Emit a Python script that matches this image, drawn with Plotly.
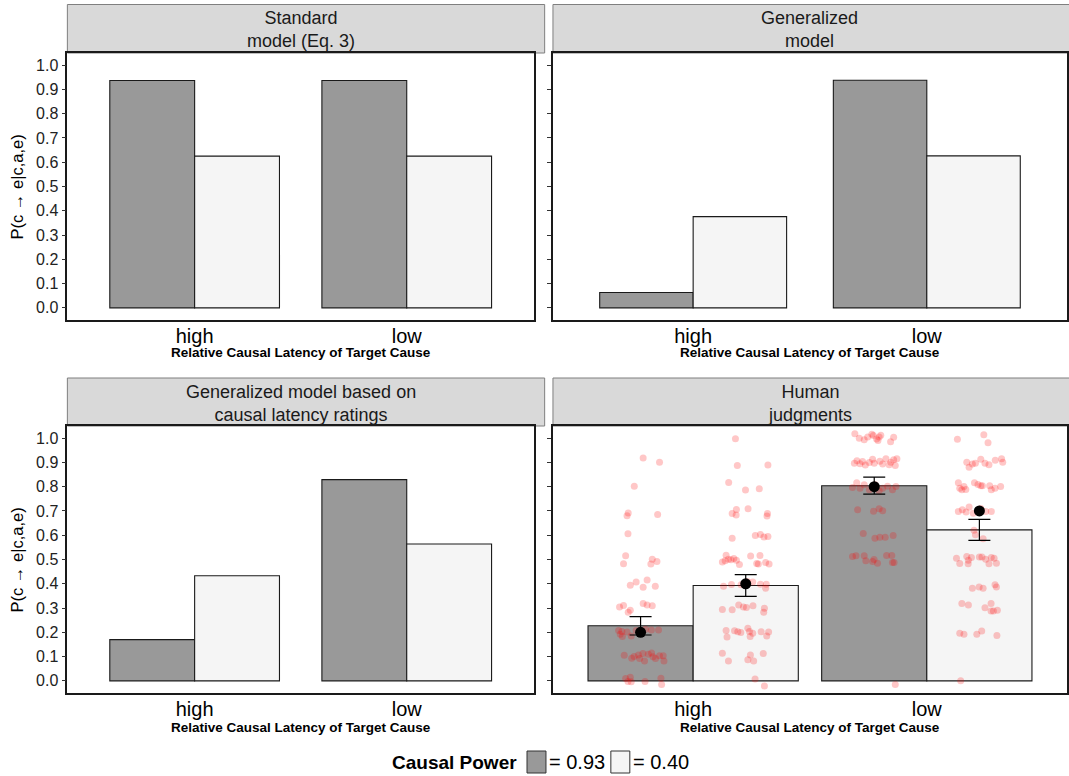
import plotly.graph_objects as go

W, H = 1069, 776

# ---------------------------------------------------------------- data
latency = ["high", "low"]
x_pos = [1, 2]

standard_093 = [0.937, 0.937]
standard_040 = [0.625, 0.625]

general_093 = [0.063, 0.938]
general_040 = [0.376, 0.626]

rating_093 = [0.170, 0.829]
rating_040 = [0.433, 0.564]

human_mean_093 = [0.227, 0.804]
human_mean_040 = [0.393, 0.622]
human_se_093 = [0.038, 0.035]
human_se_040 = [0.045, 0.043]
human_median_093 = [0.2, 0.8]
human_median_040 = [0.4, 0.7]

# individual judgments (value, horizontal jitter) per condition
high_093_vals = [0.918, 0.901, 0.802, 0.692, 0.680, 0.685, 0.606, 0.515, 0.482, 0.501, 0.492, 0.481,
                 0.416, 0.407, 0.394, 0.386, 0.390, 0.304, 0.310, 0.283, 0.291, 0.319, 0.313, 0.309,
                 0.207, 0.192, 0.183, 0.201, 0.185, 0.207, 0.196, 0.213, 0.210, 0.210, 0.203,
                 0.106, 0.093, 0.107, 0.092, 0.082, 0.110, 0.099, 0.092, 0.103, 0.103, 0.082, 0.100,
                 0.113, 0.115, 0.010, -0.003, 0.015, -0.004, -0.003, 0.011, -0.015]
high_093_jit = [0.011, 0.081, -0.027, -0.053, -0.058, 0.073, -0.054, -0.064, -0.073, 0.050, 0.070, 0.044,
                0.028, -0.019, -0.044, 0.011, 0.063, -0.090, -0.073, -0.053, -0.044, 0.011, 0.028, 0.050,
                -0.094, -0.087, -0.078, -0.058, -0.040, -0.019, 0.003, 0.021, 0.046, 0.077, -0.080,
                -0.070, -0.038, -0.009, -0.004, 0.017, 0.033, 0.053, 0.064, 0.081, 0.097, 0.100, -0.028,
                0.010, 0.047, -0.064, -0.054, -0.044, -0.040, 0.019, 0.087, 0.090]

high_040_vals = [0.997, 0.887, 0.889, 0.817, 0.786, 0.791, 0.690, 0.706, 0.683, 0.709, 0.690, 0.679,
                 0.588, 0.599, 0.603, 0.595, 0.593,
                 0.518, 0.490, 0.495, 0.501, 0.499, 0.504, 0.497, 0.479, 0.514, 0.484, 0.516, 0.488,
                 0.481, 0.481,
                 0.390, 0.397, 0.396, 0.409, 0.407, 0.398, 0.398, 0.382,
                 0.294, 0.293, 0.313, 0.304, 0.302, 0.309, 0.299, 0.283,
                 0.207, 0.181, 0.206, 0.202, 0.199, 0.217, 0.203, 0.196, 0.183, 0.202, 0.185, 0.201,
                 0.114, 0.082, 0.087, 0.107, 0.082, 0.113, 0.008, -0.021]
high_040_jit = [-0.044, -0.036, 0.095, -0.073, -0.001, 0.058, -0.058, -0.040, -0.041, 0.010, 0.093, 0.091,
                -0.058, 0.041, 0.063, 0.095, 0.078,
                -0.084, -0.100, -0.088, -0.074, -0.063, -0.051, -0.040, -0.027, 0.021, 0.047, 0.061,
                0.085, 0.100, 0.054,
                -0.095, -0.061, -0.020, 0.007, 0.030, 0.063, 0.088, 0.085,
                -0.100, -0.058, -0.030, -0.010, 0.003, 0.031, 0.080, 0.077,
                -0.084, -0.080, -0.048, -0.034, -0.021, 0.009, 0.016, 0.030, 0.019, 0.066, 0.090, 0.098,
                -0.100, -0.074, 0.009, 0.020, 0.034, 0.075, 0.040, 0.080]

low_093_vals = [1.018, 1.000, 0.993, 1.005, 1.011, 0.996, 1.005, 0.990, 1.012, 0.985, 1.004, 1.016,
                0.897, 0.907, 0.894, 0.904, 0.889, 0.900, 0.913, 0.897, 0.905, 0.893, 0.915, 0.890,
                0.911, 0.915, 0.887, 0.901,
                0.797, 0.816, 0.794, 0.808, 0.787, 0.808, 0.783, 0.802, 0.801, 0.787, 0.794,
                0.705, 0.699, 0.709, 0.701,
                0.607, 0.588, 0.592, 0.592, 0.599,
                0.512, 0.515, 0.515, 0.495, 0.492, 0.485, 0.516, 0.516, 0.488, 0.488, 0.500,
                -0.015]
low_093_jit = [-0.083, -0.064, -0.043, -0.028, -0.004, 0.010, 0.021, 0.016, 0.028, 0.070, 0.083, -0.010,
               -0.085, -0.074, -0.061, -0.050, -0.038, -0.021, -0.007, 0.000, 0.024, 0.036, 0.050, 0.064,
               0.083, 0.097, 0.090, 0.071,
               -0.093, -0.075, -0.061, -0.043, -0.021, 0.004, 0.021, 0.057, 0.093, 0.078, 0.036,
               -0.071, -0.003, 0.021, 0.036,
               -0.047, 0.003, 0.024, 0.047, 0.081,
               -0.093, -0.078, -0.043, -0.036, -0.007, 0.014, 0.053, 0.075, 0.078, 0.085, -0.001,
               0.090]

low_040_vals = [0.995, 1.014, 0.981,
                0.901, 0.880, 0.897, 0.913, 0.897, 0.890, 0.909, 0.915, 0.901, 0.893,
                0.816, 0.787, 0.801, 0.788, 0.816, 0.809, 0.804, 0.804, 0.804, 0.787, 0.794, 0.801, 0.794,
                0.698, 0.705, 0.696, 0.716, 0.710, 0.698, 0.698, 0.691,
                0.620, 0.602, 0.585,
                0.505, 0.484, 0.512, 0.497, 0.508, 0.510, 0.510, 0.501, 0.482, 0.508, 0.505, 0.485, 0.482,
                0.382, 0.387, 0.382, 0.396, 0.387,
                0.319, 0.313, 0.301, 0.319, 0.288, 0.291, 0.288,
                0.196, 0.192, 0.192, 0.205, 0.187,
                0.000]
low_040_jit = [-0.094, 0.019, 0.037,
               -0.054, -0.044, -0.017, 0.006, 0.024, 0.041, 0.068, 0.095, 0.100, -0.030,
               -0.090, -0.075, -0.066, -0.058, -0.021, -0.006, 0.006, 0.013, 0.044, 0.051, 0.067, 0.091, -0.084,
               -0.090, -0.073, -0.057, -0.044, 0.006, 0.027, 0.051, -0.026,
               -0.023, -0.017, 0.016,
               -0.098, -0.084, -0.054, -0.047, -0.034, 0.000, 0.011, 0.027, 0.041, 0.051, 0.063, 0.073, -0.048,
               -0.030, -0.001, 0.016, 0.067, 0.073,
               -0.075, -0.047, 0.024, 0.050, 0.050, 0.077, 0.060,
               -0.084, -0.066, -0.011, 0.010, 0.075,
               -0.080]

panel_titles = ["Standard<br>model (Eq. 3)", "Generalized<br>model",
                "Generalized model based on<br>causal latency ratings", "Human<br>judgments"]
x_title = "Relative Causal Latency of Target Cause"
y_title = "P(c \u2192 e|c,a,e)"
power_labels = ["= 0.93", "= 0.40"]
y_ticks = [round(0.1 * i, 1) for i in range(11)]

# ---------------------------------------------------------------- style
DARK = "#999999"
LIGHT = "#F5F5F5"
FONT = "Liberation Sans, Arial, sans-serif"
BORDER = "#1A1A1A"


def px_x(p):
    return p / W


def px_y(p):
    return 1 - p / H


# panel geometry (pixels)
left_dom = [px_x(67.5), px_x(535)]
right_dom = [px_x(554), 1.0]
top_dom = [px_y(320), px_y(53)]
bot_dom = [px_y(693), px_y(426)]
top_strip = (4.5, 53)
bot_strip = (378, 426)

panels = [
    dict(xd=left_dom, yd=top_dom, strip=top_strip, lab=True),
    dict(xd=right_dom, yd=top_dom, strip=top_strip, lab=False),
    dict(xd=left_dom, yd=bot_dom, strip=bot_strip, lab=True),
    dict(xd=right_dom, yd=bot_dom, strip=bot_strip, lab=False),
]

fig = go.Figure()


def add_bars(idx, v093, v040, width):
    xa = "x" if idx == 1 else f"x{idx}"
    ya = "y" if idx == 1 else f"y{idx}"
    for vals, col, off in [(v093, DARK, -width), (v040, LIGHT, 0.0)]:
        fig.add_trace(go.Bar(
            x=x_pos, y=vals, width=width, offset=off,
            marker=dict(color=col, line=dict(color=BORDER, width=1.1)),
            xaxis=xa, yaxis=ya, showlegend=False, hoverinfo="y"))


add_bars(1, standard_093, standard_040, 0.4)
add_bars(2, general_093, general_040, 0.4)
add_bars(3, rating_093, rating_040, 0.4)
add_bars(4, human_mean_093, human_mean_040, 0.45)

# jittered individual judgments
shift = 0.225
groups = [
    (x_pos[0] - shift, high_093_vals, high_093_jit),
    (x_pos[0] + shift, high_040_vals, high_040_jit),
    (x_pos[1] - shift, low_093_vals, low_093_jit),
    (x_pos[1] + shift, low_040_vals, low_040_jit),
]
for centre, vals, jit in groups:
    fig.add_trace(go.Scatter(
        x=[centre + j for j in jit], y=vals, mode="markers",
        marker=dict(size=7, color="rgba(255,0,0,0.22)", line=dict(width=0)),
        xaxis="x4", yaxis="y4", showlegend=False, hoverinfo="y"))

# standard-error bars around the means
centres = [x_pos[0] - shift, x_pos[0] + shift, x_pos[1] - shift, x_pos[1] + shift]
means = [human_mean_093[0], human_mean_040[0], human_mean_093[1], human_mean_040[1]]
ses = [human_se_093[0], human_se_040[0], human_se_093[1], human_se_040[1]]
medians = [human_median_093[0], human_median_040[0], human_median_093[1], human_median_040[1]]
fig.add_trace(go.Scatter(
    x=centres, y=means, mode="markers",
    marker=dict(size=1, color="rgba(0,0,0,0)"),
    error_y=dict(type="data", array=ses, visible=True, color="black", thickness=1.2, width=11),
    xaxis="x4", yaxis="y4", showlegend=False, hoverinfo="skip"))
fig.add_trace(go.Scatter(
    x=centres, y=medians, mode="markers",
    marker=dict(size=11, color="black"),
    xaxis="x4", yaxis="y4", showlegend=False, hoverinfo="y"))

# ---------------------------------------------------------------- axes
layout = dict(
    width=W, height=H, margin=dict(l=0, r=0, t=0, b=0),
    paper_bgcolor="white", plot_bgcolor="white",
    barmode="overlay", font=dict(family=FONT, color="black"),
    showlegend=False,
)
shapes = []
annotations = []

for i, p in enumerate(panels, start=1):
    xk = "xaxis" if i == 1 else f"xaxis{i}"
    yk = "yaxis" if i == 1 else f"yaxis{i}"
    ya = "y" if i == 1 else f"y{i}"
    xa = "x" if i == 1 else f"x{i}"
    layout[xk] = dict(
        domain=p["xd"], anchor=ya, range=[0.4, 2.6],
        tickmode="array", tickvals=x_pos, ticktext=latency,
        ticks="", ticklabelstandoff=-3,
        tickfont=dict(size=20, color="black", family=FONT),
        showgrid=False, zeroline=False,
        showline=True, mirror=True, linecolor=BORDER, linewidth=1.6,
        fixedrange=True)
    layout[yk] = dict(
        domain=p["yd"], anchor=xa, range=[-0.05, 1.05],
        tickmode="array", tickvals=y_ticks, ticktext=[f"{v:.1f}" for v in y_ticks],
        ticks="outside", ticklen=4, tickwidth=1, tickcolor="#333333",
        showticklabels=p["lab"], tickfont=dict(size=16, color="#222222", family=FONT),
        showgrid=False, zeroline=False,
        showline=True, mirror=True, linecolor=BORDER, linewidth=1.6,
        fixedrange=True)

    s_top, s_bot = p["strip"]
    shapes.append(dict(type="rect", xref="paper", yref="paper",
                       x0=p["xd"][0], x1=p["xd"][1] + 0.01, y0=px_y(s_bot), y1=px_y(s_top),
                       fillcolor="#D9D9D9", line=dict(color="#7F7F7F", width=1), layer="below"))
    cx = (p["xd"][0] + p["xd"][1]) / 2
    annotations.append(dict(text=panel_titles[i - 1], xref="paper", yref="paper",
                            x=cx, y=px_y((s_top + s_bot) / 2 + 1), xanchor="center", yanchor="middle",
                            showarrow=False, font=dict(size=18, color="#1A1A1A", family=FONT)))
    title_y = 353 if i <= 2 else 727
    annotations.append(dict(text=f"<b>{x_title}</b>", xref="paper", yref="paper",
                            x=cx, y=px_y(title_y), xanchor="center", yanchor="middle",
                            showarrow=False, font=dict(size=13.5, color="black", family=FONT)))
    if p["lab"]:
        cy = (p["yd"][0] + p["yd"][1]) / 2
        annotations.append(dict(text=y_title, xref="paper", yref="paper", textangle=-90,
                                x=px_x(17), y=cy, xanchor="center", yanchor="middle",
                                showarrow=False, font=dict(size=16.5, color="black", family=FONT)))

# ---------------------------------------------------------------- legend
leg_y = 762
annotations.append(dict(text="<b>Causal Power</b>", xref="paper", yref="paper",
                        x=px_x(391), y=px_y(leg_y), xanchor="left", yanchor="middle",
                        showarrow=False, font=dict(size=19, color="black", family=FONT)))
key_x = [528, 612]
for kx, col, lab in zip(key_x, [DARK, LIGHT], power_labels):
    shapes.append(dict(type="rect", xref="paper", yref="paper",
                       x0=px_x(kx), x1=px_x(kx + 19), y0=px_y(leg_y + 11), y1=px_y(leg_y - 11),
                       fillcolor=col, line=dict(color="#333333", width=1)))
    annotations.append(dict(text=lab, xref="paper", yref="paper",
                            x=px_x(kx + 20), y=px_y(leg_y), xanchor="left", yanchor="middle",
                            showarrow=False, font=dict(size=20, color="black", family=FONT)))

layout["shapes"] = shapes
layout["annotations"] = annotations
fig.update_layout(**layout)

fig.write_html("out.html")
